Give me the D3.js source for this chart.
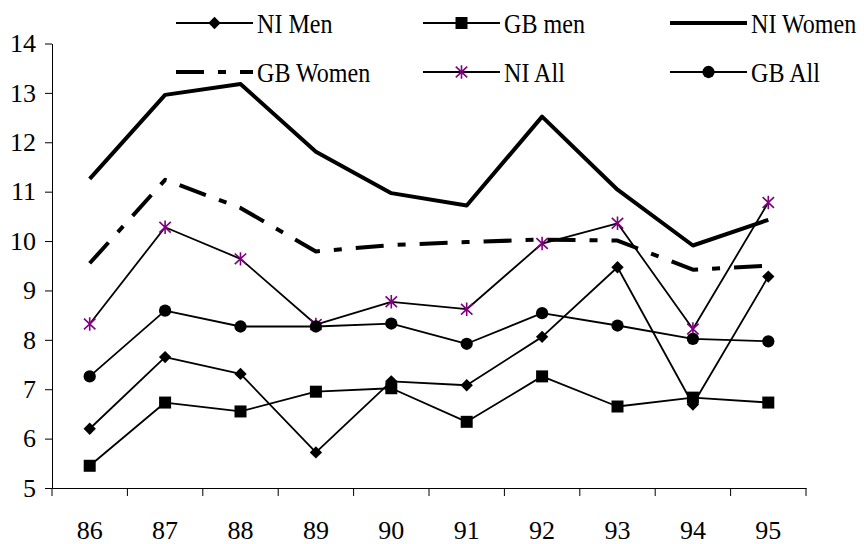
<!DOCTYPE html>
<html>
<head>
<meta charset="utf-8">
<script src="https://cdn.jsdelivr.net/npm/d3@7"></script>
<style>
  html, body { margin: 0; padding: 0; background: #fff; }
  svg { display: block; }
  text { font-family: "Times New Roman", "Liberation Serif", "DejaVu Serif", serif; fill: #000; }
</style>
</head>
<body>
<svg id="chart" width="864" height="544"></svg>
<script>
// Years (two-digit labels on the category axis)
const years = ["86", "87", "88", "89", "90", "91", "92", "93", "94", "95"];

// Rates by group
const niMen   = [6.20, 7.65, 7.31, 5.72, 7.16, 7.08, 8.06, 9.47, 6.69, 9.28];
const gbMen   = [5.45, 6.73, 6.55, 6.95, 7.02, 6.34, 7.26, 6.65, 6.83, 6.73];
const niWomen = [11.26, 12.96, 13.18, 11.81, 10.97, 10.72, 12.52, 11.04, 9.91, 10.43];
const gbWomen = [9.55, 11.24, 10.67, 9.79, 9.92, 9.98, 10.03, 10.01, 9.42, 9.50];
const niAll   = [8.32, 10.28, 9.64, 8.31, 8.77, 8.62, 9.95, 10.36, 8.22, 10.78];
const gbAll   = [7.26, 8.59, 8.27, 8.27, 8.33, 7.92, 8.54, 8.29, 8.02, 7.97];

const yTicks = [5, 6, 7, 8, 9, 10, 11, 12, 13, 14];

const FONT = '"Times New Roman", "Liberation Serif", "DejaVu Serif", serif';

// Asterisk marker: a vertical stroke crossed by an X
const asterisk = {
  draw(ctx, size) {
    const r = Math.sqrt(size) / 2;
    ctx.moveTo(0, -r); ctx.lineTo(0, r);
    ctx.moveTo(-r * 0.85, -r * 0.8); ctx.lineTo(r * 0.85, r * 0.8);
    ctx.moveTo(-r * 0.85, r * 0.8); ctx.lineTo(r * 0.85, -r * 0.8);
  }
};

const series = [
  { name: "NI Men",   values: niMen,   width: 1.8, dash: null, marker: "diamond" },
  { name: "GB men",   values: gbMen,   width: 1.8, dash: null, marker: "square" },
  { name: "NI Women", values: niWomen, width: 4,   dash: null, marker: null },
  { name: "GB Women", values: gbWomen, width: 4,   dash: "28,14,8,14", marker: null },
  { name: "NI All",   values: niAll,   width: 1.8, dash: null, marker: "asterisk" },
  { name: "GB All",   values: gbAll,   width: 1.8, dash: null, marker: "circle" }
];

const svg = d3.select("#chart");
const plotLeft = 52, plotRight = 806, plotTop = 43.5, plotBottom = 488;

const x = d3.scaleBand().domain(years).range([plotLeft, plotRight]).paddingInner(0).paddingOuter(0);
const y = d3.scaleLinear().domain([5, 14]).range([plotBottom, plotTop]);
const cx = d => x(d) + x.bandwidth() / 2;

function markerPath(kind) {
  if (kind === "diamond") return d3.symbol().type(d3.symbolSquare).size(76)();
  if (kind === "square") return d3.symbol().type(d3.symbolSquare).size(144)();
  if (kind === "circle") return d3.symbol().type(d3.symbolCircle).size(118)();
  if (kind === "asterisk") return d3.symbol().type(asterisk).size(180)();
  return null;
}

function drawMarker(g, kind, px, py) {
  const p = g.append("path")
    .attr("d", markerPath(kind));
  if (kind === "diamond") {
    p.attr("transform", `translate(${px},${py}) rotate(45)`).attr("fill", "#000");
  } else if (kind === "asterisk") {
    p.attr("transform", `translate(${px},${py})`)
      .attr("fill", "none").attr("stroke", "#800080").attr("stroke-width", 1.6);
  } else {
    p.attr("transform", `translate(${px},${py})`).attr("fill", "#000");
  }
}

// Y axis
const yAxis = svg.append("g")
  .attr("transform", `translate(${plotLeft},0)`)
  .call(d3.axisLeft(y).tickValues(yTicks).tickFormat(d3.format("d")).tickSize(7).tickSizeOuter(0).tickPadding(9));
yAxis.select(".domain").attr("stroke", "#000").attr("stroke-width", 1);
yAxis.selectAll(".tick line").attr("stroke", "#000");
yAxis.selectAll(".tick text").attr("font-size", 26).attr("font-family", FONT).attr("fill", "#000");

// X axis: labels centred on each year, ticks between years
const xAxis = svg.append("g")
  .attr("transform", `translate(0,${plotBottom})`)
  .call(d3.axisBottom(x).tickSize(0).tickSizeOuter(0).tickPadding(33));
xAxis.select(".domain").attr("stroke", "#000").attr("stroke-width", 1);
xAxis.selectAll(".tick text").attr("font-size", 26).attr("font-family", FONT).attr("fill", "#000");
const bounds = years.map(d => x(d)).concat([x.range()[1]]);
xAxis.selectAll(".sep").data(bounds).enter().append("line")
  .attr("class", "sep")
  .attr("x1", d => d).attr("x2", d => d)
  .attr("y1", 0).attr("y2", 8)
  .attr("stroke", "#000").attr("stroke-width", 1);

// Series lines and markers
const line = d3.line().x((d, i) => cx(years[i])).y(d => y(d));
const plot = svg.append("g");
series.forEach(s => {
  const g = plot.append("g");
  g.append("path")
    .attr("d", line(s.values))
    .attr("fill", "none")
    .attr("stroke", "#000")
    .attr("stroke-width", s.width)
    .attr("stroke-linejoin", "round")
    .attr("stroke-dasharray", s.dash);
  if (s.marker) s.values.forEach((v, i) => drawMarker(g, s.marker, cx(years[i]), y(v)));
});

// Legend: two rows of three entries
const legendCols = [176, 423, 670];
const legendRows = [23, 72];
const legend = svg.append("g");
series.forEach((s, i) => {
  const lx = legendCols[i % 3], ly = legendRows[Math.floor(i / 3)];
  const g = legend.append("g");
  g.append("line")
    .attr("x1", lx).attr("x2", lx + 77)
    .attr("y1", ly).attr("y2", ly)
    .attr("stroke", "#000")
    .attr("stroke-width", s.width)
    .attr("stroke-dasharray", s.dash);
  if (s.marker) drawMarker(g, s.marker, lx + 38.5, ly);
  g.append("text")
    .attr("transform", `translate(${lx + 81},${ly + 9.5}) scale(0.86,1)`)
    .attr("font-size", 28)
    .attr("font-family", FONT)
    .text(s.name);
});
</script>
</body>
</html>
